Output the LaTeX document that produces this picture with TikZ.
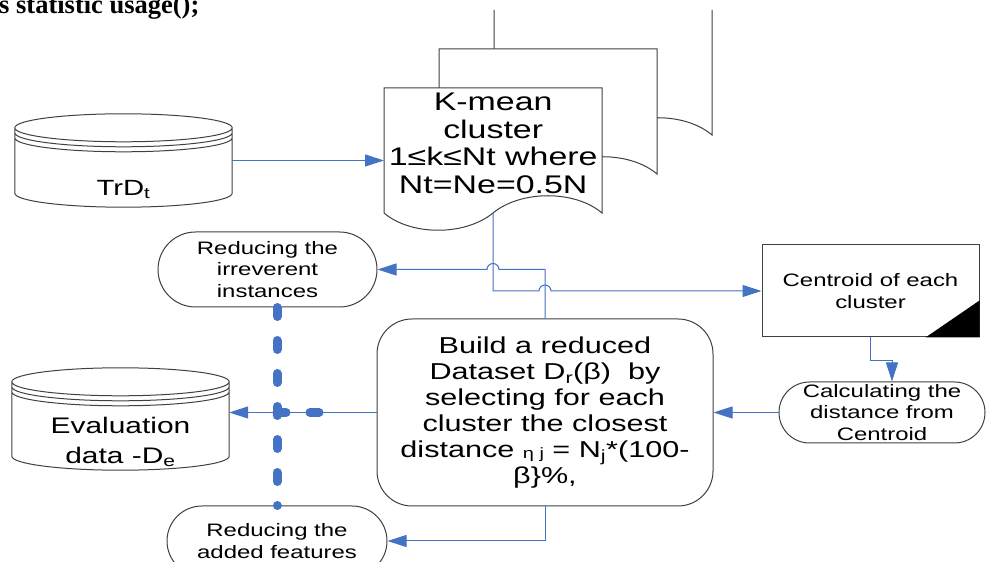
\documentclass[tikz,border=0pt]{standalone}
\usepackage{fontspec}
\setmainfont{Liberation Sans}[FakeStretch=1.33]
\newfontfamily\pagefont{Liberation Serif}
\usetikzlibrary{arrows.meta,positioning,calc,shapes.misc}
\definecolor{flowBlue}{RGB}{68,114,196}
\definecolor{shapeGray}{RGB}{64,64,64}
\def\figwidth{986}
\def\figheight{562}
% document shape, top left corner at the origin
\newcommand{\docoutline}{(0,0) -- (218,0) -- (218,-125)
 .. controls (191,-102) and (137,-102) .. (109,-125)
 .. controls (81,-148) and (27,-148) .. (0,-125) -- cycle}
% stacked disk drawn round an empty node
\newcommand{\diskoutline}[1]{%
 \draw[outline] let \p1=(#1.north west), \p2=(#1.south east), \n1={(\x2-\x1)/2} in
  (\x1,\y1-14pt) -- (\x1,\y2+14pt) arc[start angle=180,end angle=360,x radius=\n1,y radius=14pt]
  -- (\x2,\y1-14pt) arc[start angle=0,end angle=180,x radius=\n1,y radius=14pt]
  arc[start angle=180,end angle=360,x radius=\n1,y radius=14pt]
  (\x1,\y1-19pt) arc[start angle=180,end angle=360,x radius=\n1,y radius=14pt]
  (\x1,\y1-24pt) arc[start angle=180,end angle=360,x radius=\n1,y radius=14pt];}

\begin{document}
\begin{tikzpicture}[x=1pt,y=1pt,
 outline/.style={draw=shapeGray,line width=1pt},
 arr/.style={-{Triangle[length=19pt,width=12pt]},line width=1pt,flowBlue},
 dashblue/.style={flowBlue,line width=9pt,line cap=round,dash pattern=on 9pt off 24pt},
 disk/.style={inner sep=0pt},
 disklabel/.style={inner sep=0pt,align=center},
 procbox/.style={outline,fill=white,align=center,inner sep=2pt},
 stadium/.style={outline,fill=white,rounded rectangle,align=center,inner sep=0pt,
  font=\fontsize{18}{21.3}\selectfont}]
\path[use as bounding box] (0,0) rectangle (\figwidth,\figheight);
\node[anchor=base west,inner sep=0pt,font=\pagefont\bfseries\fontsize{26.5}{28}\selectfont] (pagetext) at (-1,548) {s statistic usage();};

% multi-document, back to front
\coordinate (docNW) at (384,474);
\filldraw[outline,fill=white,shift={($(docNW)+(110,78)$)}] (0,0) -- (0,-125)
 .. controls (27,-148) and (81,-148) .. (109,-125)
 .. controls (137,-102) and (191,-102) .. (218,-125) -- (218,0);
\filldraw[outline,fill=white,shift={($(docNW)+(55,39)$)}] \docoutline;
\filldraw[outline,fill=white,shift={(docNW)}] \docoutline;
\node[anchor=north west,inner sep=0pt,minimum width=218pt,minimum height=110pt,align=center,
 font=\fontsize{25.5}{27.5}\selectfont] (kmean) at (docNW) {K-mean\\cluster\\1≤k≤Nt where\\Nt=Ne=0.5N};
\coordinate (kmeanout) at ($(kmean.north west)+(109,-125)$);

% data stores
\node[disk,minimum width=217pt,minimum height=93pt] (trd) at (123.5,401.5) {};
\diskoutline{trd}
\node[disklabel,above=8pt of trd.south,font=\fontsize{22}{24}\selectfont] (trdtext) {TrD\textsubscript{t}};
\node[disk,minimum width=217pt,minimum height=102pt] (eval) at (120.5,143) {};
\diskoutline{eval}
\node[disklabel,above=3pt of eval.south,font=\fontsize{22.5}{30}\selectfont] (evaltext) {Evaluation\\data -D\textsubscript{e}};

% process steps
\node[procbox,minimum width=217pt,minimum height=92pt,font=\fontsize{18}{21.3}\selectfont] (centroid) at (870.5,271) {Centroid of each\\cluster};
\fill[black] (centroid.south east) -- ++(-54,0) -- ++(54,37) -- cycle;
\node[stadium,minimum width=206pt,minimum height=61pt] (calc) at (882,149.5) {Calculating the\\distance from\\Centroid};
\node[procbox,rounded corners=35pt,minimum width=336pt,minimum height=187pt,
 font=\fontsize{23}{26}\selectfont] (build) at (545,149.5)
 {Build a reduced\\Dataset D\textsubscript{r}(β)\ \ by\\selecting for each\\cluster the closest\\distance \raisebox{-1.5pt}{\fontsize{15}{15}\selectfont η j} = N\textsubscript{j}*(100-\\β\}\%,};
\node[stadium,minimum width=219pt,minimum height=75pt] (irrev) at (267.5,292.5) {Reducing the\\irreverent\\instances};
\node[stadium,minimum width=220pt,minimum height=70pt] (added) at (277,21) {Reducing the\\added features};

% connectors
\draw[arr] (trd.east) -- (trd.east -| kmean.west);
\draw[arr] (kmeanout) |- ($(build.north |- centroid.west)+(-6,0)$) arc[start angle=180,end angle=0,radius=6] -- (centroid.west);
\draw[arr] (build.north) |- ($(kmeanout |- irrev.east)+(6,0)$) arc[start angle=0,end angle=180,radius=6] -- (irrev.east);
\draw[arr] (centroid.south) -- ++(0,-23) -| ($(calc.north)+(10,0)$);
\draw[arr] (calc.west) -- (build.east);
\draw[arr] (build.west) -- (build.west -| eval.east);
\draw[arr] (build.south) |- (added.east);

% thick dashed link
\coordinate (dashend) at ($(build.west)+(-55,0)$);
\draw[dashblue] (irrev.south -| added.north) -- (added.north);
\draw[dashblue] (added.north |- build.west) -- (dashend);
\end{tikzpicture}
\end{document}
